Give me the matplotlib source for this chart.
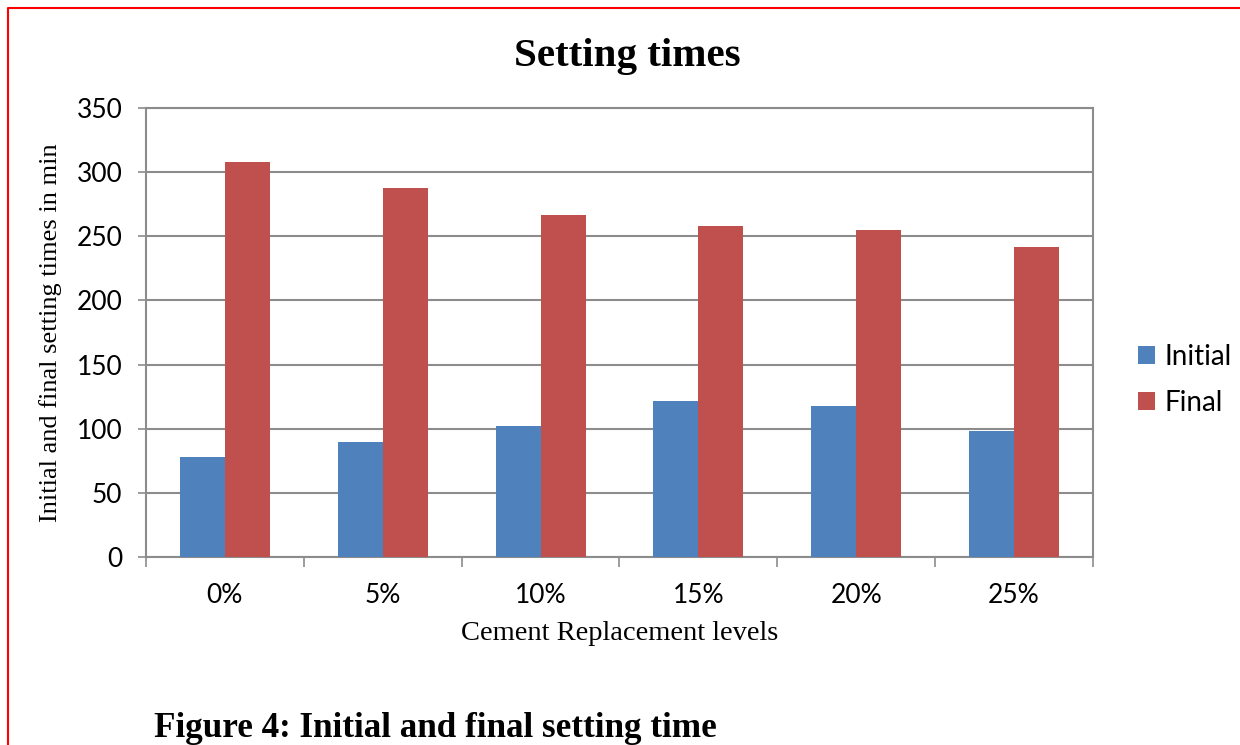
import matplotlib.pyplot as plt
from matplotlib.lines import Line2D
import numpy as np

# Setting times (min) for each cement replacement level
levels = ["0%", "5%", "10%", "15%", "20%", "25%"]
initial = [78, 90, 102, 122, 118, 98]
final = [308, 288, 267, 258, 255, 242]

blue = "#4F81BD"
red = "#C0504D"
grey = "#8C8C8C"
serif = ["Liberation Serif", "DejaVu Serif"]
sans = ["Lato", "DejaVu Sans"]

fig = plt.figure(figsize=(12.4, 7.45), dpi=100)
ax = fig.add_axes([0.1177, 0.2523, 0.7637, 0.6027])

x = np.arange(len(levels))
w = 0.285
ax.bar(x - w / 2, initial, w, color=blue, label="Initial", zorder=3)
ax.bar(x + w / 2, final, w, color=red, label="Final", zorder=3)

ax.set_xlim(-0.5, len(levels) - 0.5)
ax.set_ylim(0, 350)
ax.set_yticks(np.arange(0, 351, 50))
ax.yaxis.grid(True, color=grey, linewidth=1.5, zorder=0)

# category labels at bar groups, tick marks between groups
ax.set_xticks(x)
ax.set_xticklabels(levels, fontfamily=sans, fontsize=19)
ax.set_xticks(np.arange(-0.5, len(levels)), minor=True)
ax.tick_params(axis="x", which="major", length=0, pad=19)
ax.tick_params(axis="x", which="minor", length=7, width=1.2, color=grey, direction="out")
ax.tick_params(axis="y", length=6, width=1.2, color=grey, pad=11, labelsize=19)
for lab in ax.get_yticklabels():
    lab.set_fontfamily(sans)

for sp in ax.spines.values():
    sp.set_color(grey)
    sp.set_linewidth(1.5)

fig.text(0.506, 0.911, "Setting times", ha="center", va="baseline",
         fontsize=29.5, fontweight="bold", fontfamily=serif)
fig.text(0.041, 0.554, "Initial and final setting times in min", rotation=90,
         ha="center", va="center", fontsize=19, fontfamily=serif)
fig.text(0.4996, 0.141, "Cement Replacement levels", ha="center", va="baseline",
         fontsize=20.5, fontfamily=serif)
fig.text(0.124, 0.0107, "Figure 4: Initial and final setting time", ha="left",
         va="baseline", fontsize=25.3, fontweight="bold", fontfamily=serif)

ax.legend(loc="center left", bbox_to_anchor=(1138 / 1240, 1 - 380 / 745),
          bbox_transform=fig.transFigure, frameon=False, borderpad=0,
          borderaxespad=0, handlelength=0.6, handleheight=0.6,
          handletextpad=0.35, labelspacing=0.72,
          prop={"family": sans, "size": 20})

# red page border along the top and left edges
fig.add_artist(Line2D([8 / 1240, 8 / 1240, 1.0], [0.0, 1 - 8 / 745, 1 - 8 / 745],
                      transform=fig.transFigure, color="#FF0000", linewidth=1.5))

fig.savefig("out.png", dpi=100)
